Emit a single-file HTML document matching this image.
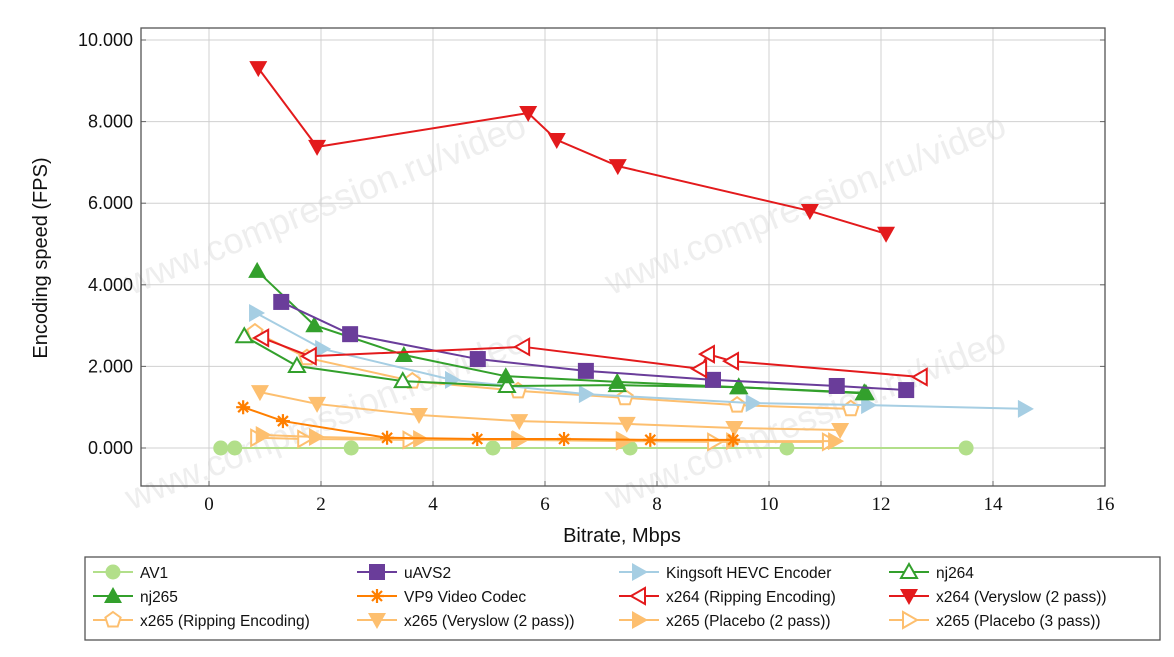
<!DOCTYPE html>
<html><head><meta charset="utf-8"><style>
body{margin:0;background:#fff;font-family:"Liberation Sans",sans-serif;}
</style></head><body>
<svg id="c" width="1174" height="652" xmlns="http://www.w3.org/2000/svg" font-family="Liberation Sans, sans-serif"></svg>
<script>
const xTicks=[0,2,4,6,8,10,12,14,16];
const yTicks=[0,2,4,6,8,10];
const yTickLabels=["0.000","2.000","4.000","6.000","8.000","10.000"];
const sAV1x=[0.21,0.46,2.54,5.07,7.52,10.32,13.52];
const sAV1y=[0,0,0,0,0,0,0];
const sUAVSx=[1.29,2.52,4.80,6.73,9.0,11.21,12.45];
const sUAVSy=[3.58,2.79,2.18,1.89,1.67,1.52,1.42];
const sKingx=[0.84,2.02,4.34,6.73,9.71,11.77,14.57];
const sKingy=[3.31,2.43,1.67,1.32,1.10,1.05,0.96];
const sNj264x=[0.63,1.57,3.46,5.32,7.29,9.46,11.7];
const sNj264y=[2.74,2.01,1.64,1.52,1.54,1.49,1.34];
const sNj265x=[0.86,1.88,3.48,5.30,7.29,9.46,11.73];
const sNj265y=[4.34,3.01,2.28,1.76,1.62,1.49,1.35];
const sVP9x=[0.61,1.32,3.18,4.79,6.34,7.88,9.36];
const sVP9y=[1.0,0.66,0.25,0.22,0.22,0.2,0.2];
const sX264Rx=[0.95,1.80,5.61,8.77,8.91,9.34,12.71];
const sX264Ry=[2.70,2.25,2.48,1.94,2.30,2.13,1.74];
const sX264Vx=[0.88,1.93,5.70,6.21,7.30,10.73,12.09];
const sX264Vy=[9.31,7.38,8.21,7.55,6.91,5.81,5.25];
const sX265Rx=[0.82,1.75,3.63,5.52,7.43,9.43,11.46];
const sX265Ry=[2.84,2.21,1.64,1.40,1.23,1.05,0.96];
const sX265Vx=[0.91,1.93,3.75,5.54,7.46,9.38,11.27];
const sX265Vy=[1.37,1.08,0.81,0.66,0.59,0.49,0.44];
const sX265P2x=[0.96,1.91,3.77,5.52,7.39,9.36,11.18];
const sX265P2y=[0.32,0.27,0.22,0.2,0.2,0.17,0.17];
const sX265P3x=[0.86,1.70,3.58,5.54,7.39,9.02,11.07];
const sX265P3y=[0.25,0.22,0.2,0.2,0.17,0.15,0.15];

const NS="http://www.w3.org/2000/svg";
const svg=document.getElementById('c');
const L=141,R=1105,T=28,B=486;
const xs=v=>209+v*56;
const ys=v=>448-v*40.8;
function el(t,a,p){const e=document.createElementNS(NS,t);for(const k in a)e.setAttribute(k,a[k]);(p||svg).appendChild(e);return e;}

[[330,215],[810,215],[330,430],[810,430]].forEach((p,i)=>{
 const t=el('text',{x:p[0],y:p[1],'font-size':36,fill:'#eeeeee',transform:`rotate(-22 ${p[0]} ${p[1]})`,'text-anchor':'middle'});
 t.textContent='www.compression.ru/video';
 
 
});
xTicks.forEach(v=>{const g=el('line',{x1:xs(v),x2:xs(v),y1:T,y2:B,stroke:'#d0d0d0','stroke-width':1});
 
 el('line',{x1:xs(v),x2:xs(v),y1:B,y2:B-5,stroke:'#666'});
 const t=el('text',{x:xs(v),y:B+24,'font-size':19,'text-anchor':'middle',fill:'#111',style:'font-family:"Liberation Serif",serif'});t.textContent=v;
 });
yTicks.forEach((v,i)=>{const g=el('line',{x1:L,x2:R,y1:ys(v),y2:ys(v),stroke:'#d0d0d0','stroke-width':1});
 
 el('line',{x1:L,x2:L+5,y1:ys(v),y2:ys(v),stroke:'#666'});
 el('line',{x1:R,x2:R-5,y1:ys(v),y2:ys(v),stroke:'#666'});
 const t=el('text',{x:133,y:ys(v)+6,'font-size':18,'text-anchor':'end',fill:'#111'});t.textContent=yTickLabels[i];
 });
const fr=el('rect',{x:L,y:T,width:R-L,height:B-T,fill:'none',stroke:'#555','stroke-width':1.3});

let t=el('text',{x:622,y:542,'font-size':20,'text-anchor':'middle',fill:'#111'});t.textContent='Bitrate, Mbps';

t=el('text',{x:47,y:258,'font-size':20,'text-anchor':'middle',fill:'#111',transform:'rotate(-90 47 258)'});t.textContent='Encoding speed (FPS)';


function marker(type,cx,cy,col,g){
 switch(type){
 case 'circle':return el('circle',{cx,cy,r:7.5,fill:col},g);
 case 'square':return el('rect',{x:cx-8,y:cy-8,width:16,height:16,fill:col},g);
 case 'tri':return el('polygon',{points:`${cx},${cy-9} ${cx-9},${cy+7} ${cx+9},${cy+7}`,fill:col},g);
 case 'otri':return el('polygon',{points:`${cx},${cy-8} ${cx-8},${cy+6} ${cx+8},${cy+6}`,fill:'#fff',stroke:col,'stroke-width':2},g);
 case 'rtri':return el('polygon',{points:`${cx+9},${cy} ${cx-7},${cy-9} ${cx-7},${cy+9}`,fill:col},g);
 case 'ortri':return el('polygon',{points:`${cx+8},${cy} ${cx-6},${cy-8} ${cx-6},${cy+8}`,fill:'#fff',stroke:col,'stroke-width':2},g);
 case 'oltri':return el('polygon',{points:`${cx-8},${cy} ${cx+6},${cy-8} ${cx+6},${cy+8}`,fill:'#fff',stroke:col,'stroke-width':2},g);
 case 'dtri':return el('polygon',{points:`${cx},${cy+9} ${cx-9},${cy-7} ${cx+9},${cy-7}`,fill:col},g);
 case 'star':return el('path',{d:`M${cx-7},${cy}h14M${cx},${cy-7}v14M${cx-5},${cy-5}l10,10M${cx-5},${cy+5}l10,-10`,stroke:col,'stroke-width':2.2},g);
 case 'pent':{let p=[];for(let k=0;k<5;k++){const a=-Math.PI/2+k*2*Math.PI/5;p.push((cx+8*Math.cos(a)).toFixed(1)+','+(cy+8*Math.sin(a)).toFixed(1));}
  return el('polygon',{points:p.join(' '),fill:'#fff',stroke:col,'stroke-width':2},g);}
 }
}
const series=[
 ['AV1',sAV1x,sAV1y,'#b2df8a','circle','av1'],
 ['uAVS2',sUAVSx,sUAVSy,'#6a3d9a','square','uavs2'],
 ['Kingsoft HEVC Encoder',sKingx,sKingy,'#a6cee3','rtri','kingsoft'],
 ['nj264',sNj264x,sNj264y,'#33a02c','otri','nj264'],
 ['nj265',sNj265x,sNj265y,'#33a02c','tri','nj265'],
 ['VP9 Video Codec',sVP9x,sVP9y,'#ff7f00','star','vp9'],
 ['x264 (Ripping Encoding)',sX264Rx,sX264Ry,'#e31a1c','oltri','x264-ripping'],
 ['x264 (Veryslow (2 pass))',sX264Vx,sX264Vy,'#e31a1c','dtri','x264-veryslow'],
 ['x265 (Ripping Encoding)',sX265Rx,sX265Ry,'#fdbf6f','pent','x265-ripping'],
 ['x265 (Veryslow (2 pass))',sX265Vx,sX265Vy,'#fdbf6f','dtri','x265-veryslow'],
 ['x265 (Placebo (2 pass))',sX265P2x,sX265P2y,'#fdbf6f','rtri','x265-placebo-2pass'],
 ['x265 (Placebo (3 pass))',sX265P3x,sX265P3y,'#fdbf6f','ortri','x265-placebo-3pass'],
];
const drawOrder=[0,11,10,9,5,8,2,3,4,1,6,7];
drawOrder.forEach(i=>{const [nm,X,Y,col,mk,id]=series[i];
 const g=el('g',{});
 
 
 el('polyline',{points:X.map((x,j)=>xs(x)+','+ys(Y[j])).join(' '),fill:'none',stroke:col,'stroke-width':2},g);
 X.forEach((x,j)=>{const m=marker(mk,xs(x),ys(Y[j]),col,g);
  
  });
});
const lg=el('g',{});


el('rect',{x:85,y:557,width:1075,height:83,fill:'#fff',stroke:'#555','stroke-width':1.3},lg);
const colX=[113,377,639,909],rowY=[572,596,620];
series.forEach((s,i)=>{const cx=colX[i%4],cy=rowY[Math.floor(i/4)];
 const g=el('g',{},lg);
 
 
 el('line',{x1:cx-20,x2:cx+20,y1:cy,y2:cy,stroke:s[3],'stroke-width':2},g);
 marker(s[4],cx,cy,s[3],g);
 const tx=el('text',{x:cx+27,y:cy+6,'font-size':15.5,fill:'#111'},g);tx.textContent=s[0];
});
</script>
</body></html>
